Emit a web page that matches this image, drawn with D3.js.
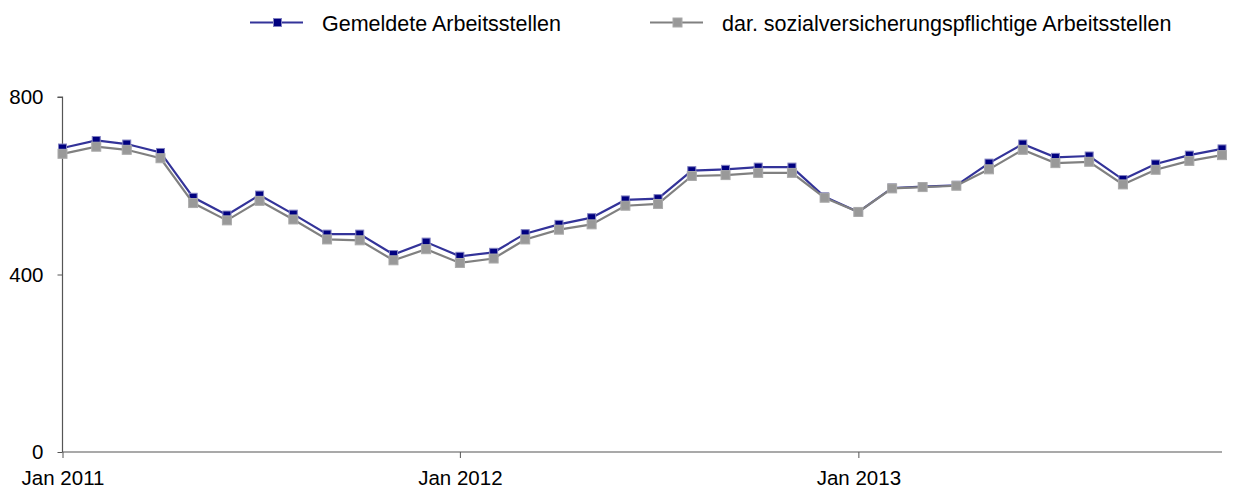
<!DOCTYPE html>
<html>
<head>
<meta charset="utf-8">
<script src="https://cdn.jsdelivr.net/npm/d3@7"></script>
<style>
  body { margin: 0; background: #fff; }
  svg { display: block; font-family: "Liberation Sans", Arial, sans-serif; }
</style>
</head>
<body>
<svg id="chart" width="1234" height="488"></svg>
<script>
// monthly values, Jan 2011 .. Dec 2013
const months = d3.range(36).map(i => new Date(2011, i, 1));
const gemeldet = [685, 702, 694, 675, 574, 534, 579, 536, 491, 491, 445, 473,
                  441, 450, 492, 513, 528, 568, 571, 634, 637, 642, 642, 575,
                  541, 595, 598, 601, 651, 694, 664, 667, 614, 649, 669, 683];
const svPflichtig = [672, 688, 681, 662, 561, 522, 566, 524, 479, 477, 432, 457,
                     426, 436, 479, 501, 513, 555, 559, 622, 624, 629, 629, 573,
                     541, 594, 597, 600, 637, 681, 651, 654, 603, 636, 656, 669];
const yTicks = [0, 400, 800];
const xTicks = [new Date(2011, 0, 1), new Date(2012, 0, 1), new Date(2013, 0, 1)];
const seriesNames = ['Gemeldete Arbeitsstellen', 'dar. sozialversicherungspflichtige Arbeitsstellen'];

const series = [
  {name: seriesNames[0], values: gemeldet, line: '#333399', fill: '#000080', stroke: '#8080c0', size: 8},
  {name: seriesNames[1], values: svPflichtig, line: '#808080', fill: '#999999', stroke: '#aaaaaa', size: 9}
];

const svg = d3.select('#chart');
const m = {l: 62.5, r: 12, t: 97, b: 36};
const W = 1234, H = 488;
const fs = 20.5;

const x = d3.scaleTime()
  .domain([months[0], months[35]])
  .range([m.l, W - m.r]);
const y = d3.scaleLinear().domain([0, 800]).range([H - m.b, m.t]);

const xAxis = svg.append('g')
  .attr('transform', `translate(0,${H - m.b})`)
  .call(d3.axisBottom(x).tickValues(xTicks).tickFormat(d3.timeFormat('%b %Y')).tickSize(6).tickPadding(12));
const yAxis = svg.append('g')
  .attr('transform', `translate(${m.l},0)`)
  .call(d3.axisLeft(y).tickValues(yTicks).tickSize(5).tickPadding(14));

[xAxis, yAxis].forEach(a => {
  a.select('.domain').attr('stroke', '#555').attr('stroke-width', 1.2);
  a.selectAll('.tick line').attr('stroke', '#555');
  a.selectAll('text').attr('font-size', fs).attr('fill', '#000')
    .attr('font-family', '"Liberation Sans", Arial, sans-serif');
});
xAxis.select('.domain').attr('d', `M${m.l},0H${W - m.r}`);
yAxis.select('.domain').attr('d', `M-5,${m.t}H0V${H - m.b}`);

const line = d3.line().x((d, i) => x(months[i])).y(d => y(d));

series.forEach(s => {
  const g = svg.append('g');
  g.append('path').datum(s.values)
    .attr('fill', 'none').attr('stroke', s.line).attr('stroke-width', 2.2)
    .attr('d', line);
  g.selectAll('rect').data(s.values).join('rect')
    .attr('x', (d, i) => x(months[i]) - s.size / 2)
    .attr('y', d => y(d) - s.size / 2)
    .attr('width', s.size).attr('height', s.size)
    .attr('fill', s.fill).attr('stroke', s.stroke).attr('stroke-width', 1);
});

// legend
const legendX = [250, 650];
series.forEach((s, i) => {
  const lg = svg.append('g').attr('transform', `translate(${legendX[i]},22.5)`);
  lg.append('line').attr('x1', 0).attr('x2', 53)
    .attr('stroke', s.line).attr('stroke-width', 2.2);
  lg.append('rect').attr('x', 27.5 - s.size / 2).attr('y', -s.size / 2)
    .attr('width', s.size).attr('height', s.size)
    .attr('fill', s.fill).attr('stroke', s.stroke);
  lg.append('text').attr('x', 72).attr('y', 8)
    .attr('font-size', 21.5).text(s.name);
});
</script>
</body>
</html>
